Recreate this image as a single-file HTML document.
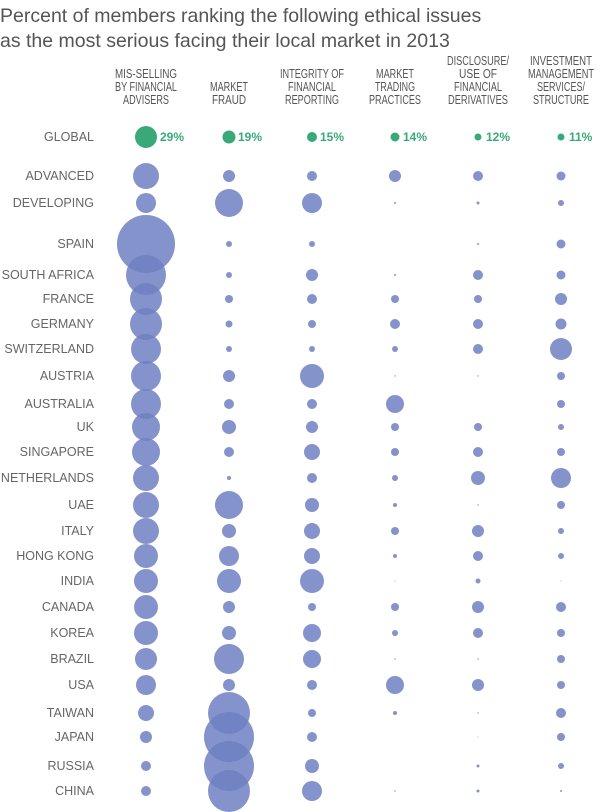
<!DOCTYPE html>
<html><head><meta charset="utf-8"><style>
body{margin:0;background:#fff;}
svg{display:block;font-family:"Liberation Sans",sans-serif;}
</style></head><body>
<svg width="600" height="812" viewBox="0 0 600 812">
<text x="0" y="22" font-size="19.5" fill="#555">Percent of members ranking the following ethical issues</text>
<text x="0" y="47" font-size="19.5" fill="#555">as the most serious facing their local market in 2013</text>
<g font-size="12.5" fill="#555" text-anchor="middle">
<text x="146" y="78" textLength="62" lengthAdjust="spacingAndGlyphs">MIS-SELLING</text>
<text x="146" y="91" textLength="62" lengthAdjust="spacingAndGlyphs">BY FINANCIAL</text>
<text x="146" y="104" textLength="46" lengthAdjust="spacingAndGlyphs">ADVISERS</text>
<text x="229" y="91" textLength="38" lengthAdjust="spacingAndGlyphs">MARKET</text>
<text x="229" y="104" textLength="34" lengthAdjust="spacingAndGlyphs">FRAUD</text>
<text x="312" y="78" textLength="64" lengthAdjust="spacingAndGlyphs">INTEGRITY OF</text>
<text x="312" y="91" textLength="48" lengthAdjust="spacingAndGlyphs">FINANCIAL</text>
<text x="312" y="104" textLength="54" lengthAdjust="spacingAndGlyphs">REPORTING</text>
<text x="395" y="78" textLength="38" lengthAdjust="spacingAndGlyphs">MARKET</text>
<text x="395" y="91" textLength="40" lengthAdjust="spacingAndGlyphs">TRADING</text>
<text x="395" y="104" textLength="52" lengthAdjust="spacingAndGlyphs">PRACTICES</text>
<text x="478" y="65" textLength="62" lengthAdjust="spacingAndGlyphs">DISCLOSURE/</text>
<text x="478" y="78" textLength="38" lengthAdjust="spacingAndGlyphs">USE OF</text>
<text x="478" y="91" textLength="48" lengthAdjust="spacingAndGlyphs">FINANCIAL</text>
<text x="478" y="104" textLength="60" lengthAdjust="spacingAndGlyphs">DERIVATIVES</text>
<text x="561" y="65" textLength="62" lengthAdjust="spacingAndGlyphs">INVESTMENT</text>
<text x="561" y="78" textLength="66" lengthAdjust="spacingAndGlyphs">MANAGEMENT</text>
<text x="561" y="91" textLength="48" lengthAdjust="spacingAndGlyphs">SERVICES/</text>
<text x="561" y="104" textLength="56" lengthAdjust="spacingAndGlyphs">STRUCTURE</text>
</g>
<g fill="#3aa97a">
<circle cx="146" cy="137" r="11"/><circle cx="229" cy="137" r="6.5"/><circle cx="312" cy="137" r="5"/>
<circle cx="395" cy="137" r="4.5"/><circle cx="478" cy="137" r="3.5"/><circle cx="561" cy="137" r="3.5"/>
<g font-size="12" font-weight="bold">
<text x="160" y="141">29%</text><text x="238" y="141">19%</text><text x="320" y="141">15%</text>
<text x="403" y="141">14%</text><text x="486" y="141">12%</text><text x="569" y="141">11%</text>
</g></g>
<g font-size="12.5" fill="#666" text-anchor="end" id="labels"></g>
<g fill="#6f80c2" fill-opacity="0.85" id="dots"></g>
<script>
var rows=[
["GLOBAL",null],
["ADVANCED",176,[13,6,5,6,5,4.5]],
["DEVELOPING",203,[10,14,10,1,1.5,3]],
["SPAIN",244,[29,3,3,0,1,4.5]],
["SOUTH AFRICA",275,[20,3,6,1,5,4.5]],
["FRANCE",299,[16,4,5,4,4,6]],
["GERMANY",324,[16,3.5,4,5,5,5.5]],
["SWITZERLAND",349,[15,3,3,3,5,11]],
["AUSTRIA",376,[15,6,12,0.7,0.7,4]],
["AUSTRALIA",404,[15,5,5,9,0,4]],
["UK",427,[14,7,6,4,4,3]],
["SINGAPORE",452,[14,5,8,4,5,4]],
["NETHERLANDS",478,[13,2,5,3,7,10]],
["UAE",505,[13,14,7,2,0.7,4]],
["ITALY",531,[13,7,8,4,6,3]],
["HONG KONG",556,[12,10,8,2,5,3]],
["INDIA",581,[12,12,12,0.5,2.5,0.5]],
["CANADA",607,[12,6,4,4,6,5]],
["KOREA",633,[12,7,9,3,5,4]],
["BRAZIL",659,[11,15,9,0.7,0.7,4]],
["USA",685,[10,6,5,9,6,4]],
["TAIWAN",713,[8,21,4,2,0.7,5]],
["JAPAN",737,[6,25,5,0,0.5,4]],
["RUSSIA",766,[5,25,7,0,1.5,3]],
["CHINA",791,[5,21,10,0.7,1.5,1]]];
var ns="http://www.w3.org/2000/svg",L=document.getElementById("labels"),D=document.getElementById("dots");
var cx=[146,229,312,395,478,561];
rows.forEach(function(r){
 var y=r[0]=="GLOBAL"?137:r[1];
 var t=document.createElementNS(ns,"text");t.setAttribute("x",94);t.setAttribute("y",y+4);t.textContent=r[0];L.appendChild(t);
 if(r[2])r[2].forEach(function(rad,i){if(rad<=0)return;var c=document.createElementNS(ns,"circle");c.setAttribute("cx",cx[i]);c.setAttribute("cy",y);c.setAttribute("r",rad);D.appendChild(c);});
});
</script>
</svg>
</body></html>
